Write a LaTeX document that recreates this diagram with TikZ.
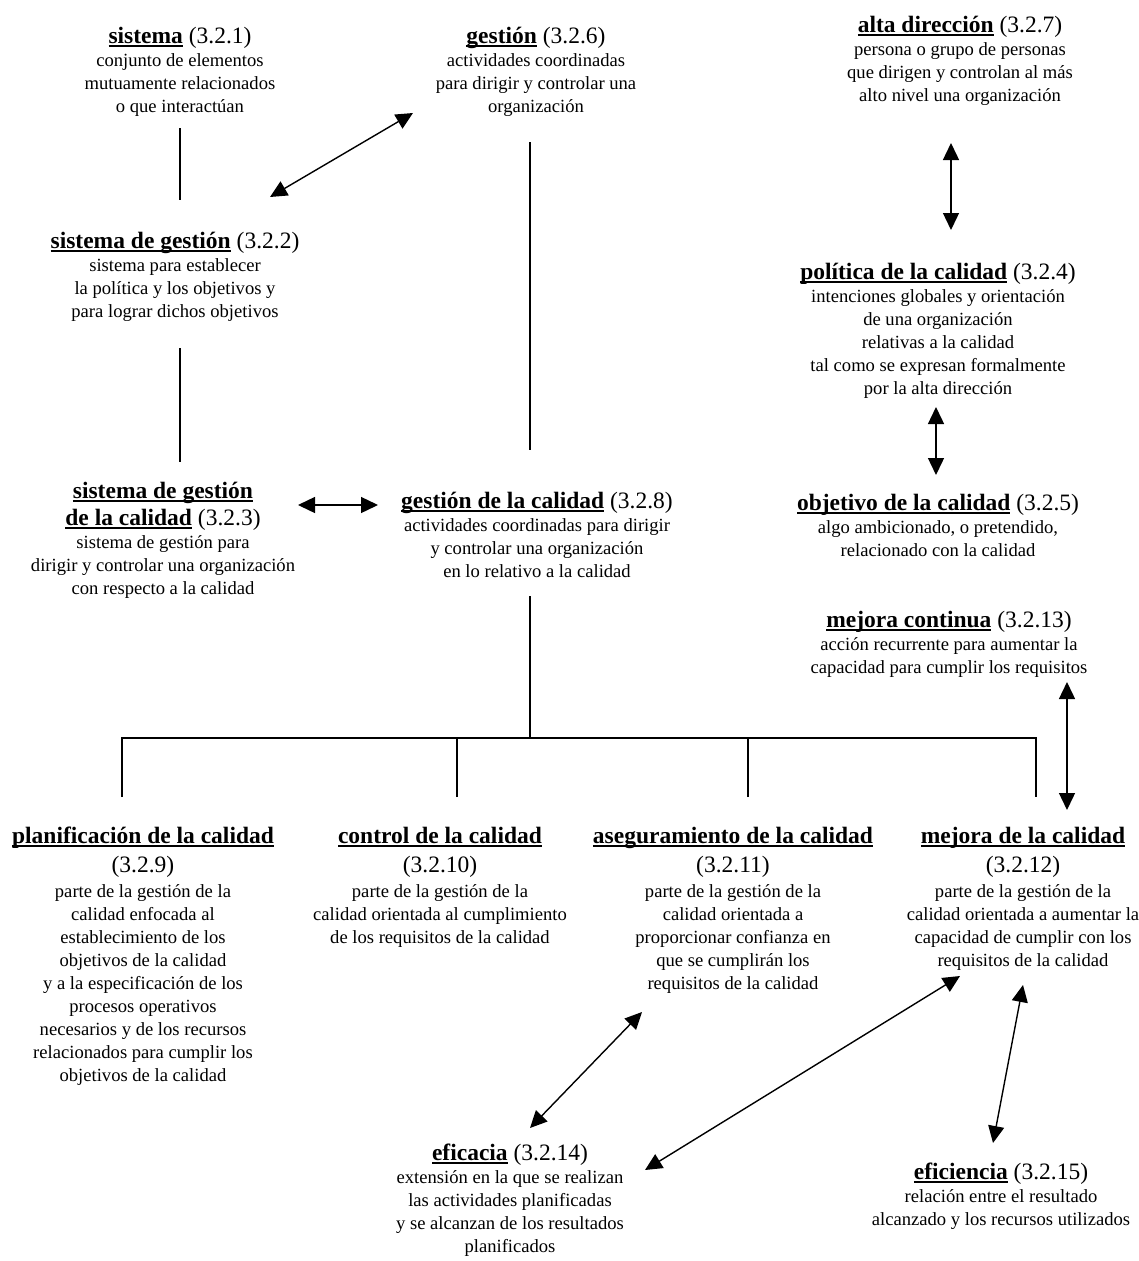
\documentclass[tikz,border=0pt]{standalone}
\usepackage{fontspec}
\setmainfont{Liberation Serif}
\usetikzlibrary{arrows.meta}

\newcommand\cuerpo{\fontsize{18.6}{23}\selectfont}
\newcommand\titulo{\fontsize{23.5}{23}\selectfont}
\newsavebox\cajaconcepto
\newcommand\concepto[1]{\sbox\cajaconcepto{\bfseries #1}\rlap{\rule[-4pt]{\wd\cajaconcepto}{2.2pt}}\usebox\cajaconcepto}

\tikzset{
  definicion/.style={align=center, inner sep=0pt, anchor=base, font=\cuerpo},
  linea/.style={line width=1.4pt},
  flecha/.style={line width=1.4pt, >={Triangle[length=17pt,width=16pt]}, <->}
}

\begin{document}
\begin{tikzpicture}[x=1pt, y=-1pt]

    \useasboundingbox (0,0) rectangle (1139,1261);

    % TOP ROW (nodes sit on the baseline of their last line)
    \node[definicion] (sis) at (180,112) {{\titulo\concepto{sistema} (3.2.1)}\\
        conjunto de elementos\\ mutuamente relacionados\\ o que interactúan};
    \node[definicion] (ges) at (536,112) {{\titulo\concepto{gestión} (3.2.6)}\\
        actividades coordinadas\\ para dirigir y controlar una\\ organización};
    \node[definicion] (alta) at (960,101) {{\titulo\concepto{alta dirección} (3.2.7)}\\
        persona o grupo de personas\\ que dirigen y controlan al más\\ alto nivel una organización};

    % SECOND ROW
    \node[definicion] (sisg) at (175,317) {{\titulo\concepto{sistema de gestión} (3.2.2)}\\
        sistema para establecer\\ la política y los objetivos y\\ para lograr dichos objetivos};
    \node[definicion] (pol) at (938,394) {{\titulo\concepto{política de la calidad} (3.2.4)}\\
        intenciones globales y orientación\\ de una organización\\ relativas a la calidad\\
        tal como se expresan formalmente\\ por la alta dirección};

    % THIRD ROW
    \node[definicion] (sgc) at (163,594) {{\titulo\concepto{sistema de gestión}}\\[4pt]
        {\titulo\concepto{de la calidad} (3.2.3)}\\
        sistema de gestión para\\ dirigir y controlar una organización\\ con respecto a la calidad};
    \node[definicion] (gcal) at (537,577) {{\titulo\concepto{gestión de la calidad} (3.2.8)}\\
        actividades coordinadas para dirigir\\ y controlar una organización\\ en lo relativo a la calidad};
    \node[definicion] (obj) at (938,556) {{\titulo\concepto{objetivo de la calidad} (3.2.5)}\\
        algo ambicionado, o pretendido,\\ relacionado con la calidad};
    \node[definicion] (mejc) at (949,673) {{\titulo\concepto{mejora continua} (3.2.13)}\\
        acción recurrente para aumentar la\\ capacidad para cumplir los requisitos};

    % BOTTOM ROW
    \node[definicion] (plan) at (143,1081) {{\titulo\concepto{planificación de la calidad}}\\[6pt]
        {\titulo (3.2.9)}\\[2pt]
        parte de la gestión de la\\ calidad enfocada al\\ establecimiento de los\\
        objetivos de la calidad\\ y a la especificación de los\\ procesos operativos\\
        necesarios y de los recursos\\ relacionados para cumplir los\\ objetivos de la calidad};
    \node[definicion] (ctrl) at (440,943) {{\titulo\concepto{control de la calidad}}\\[6pt]
        {\titulo (3.2.10)}\\[2pt]
        parte de la gestión de la\\ calidad orientada al cumplimiento\\ de los requisitos de la calidad};
    \node[definicion] (aseg) at (733,989) {{\titulo\concepto{aseguramiento de la calidad}}\\[6pt]
        {\titulo (3.2.11)}\\[2pt]
        parte de la gestión de la\\ calidad orientada a\\ proporcionar confianza en\\
        que se cumplirán los\\ requisitos de la calidad};
    \node[definicion] (mej) at (1023,966) {{\titulo\concepto{mejora de la calidad}}\\[6pt]
        {\titulo (3.2.12)}\\[2pt]
        parte de la gestión de la\\ calidad orientada a aumentar la\\ capacidad de cumplir con los\\
        requisitos de la calidad};

    % EFICACIA Y EFICIENCIA
    \node[definicion] (efa) at (510,1252) {{\titulo\concepto{eficacia} (3.2.14)}\\
        extensión en la que se realizan\\ las actividades planificadas\\
        y se alcanzan de los resultados\\ planificados};
    \node[definicion] (efi) at (1001,1225) {{\titulo\concepto{eficiencia} (3.2.15)}\\
        relación entre el resultado\\ alcanzado y los recursos utilizados};

    % LINES
    \draw[linea] ([yshift=-16pt]sis.base) -- ([xshift=5pt,yshift=117pt]sisg.base);
    \draw[linea] ([xshift=5pt,yshift=-31pt]sisg.base) -- ([xshift=17pt,yshift=132pt]sgc.base);
    \draw[linea] ([xshift=-6pt,yshift=-30pt]ges.base) -- ([xshift=-7pt,yshift=127pt]gcal.base);

    % TREE UNDER GESTION DE LA CALIDAD
    \coordinate (bus) at (530,738);
    \draw[linea] ([xshift=-7pt,yshift=-19pt]gcal.base) -- (bus);
    \draw[linea] ([xshift=-21pt,yshift=284pt]plan.base) |- (bus) -| ([xshift=13pt,yshift=169pt]mej.base);
    \draw[linea] ([xshift=17pt,yshift=146pt]ctrl.base) |- (bus);
    \draw[linea] ([xshift=15pt,yshift=192pt]aseg.base) |- (bus);

    % ARROWS
    \draw[flecha] ([xshift=-123pt,yshift=-1pt]ges.base) -- ([xshift=95pt,yshift=120pt]sisg.base);
    \draw[flecha] ([xshift=135pt,yshift=89pt]sgc.base) -- ([xshift=-159pt,yshift=72pt]gcal.base);
    \draw[flecha] ([xshift=-9pt,yshift=-42pt]alta.base) -- ([xshift=13pt,yshift=164pt]pol.base);
    \draw[flecha] ([xshift=-2pt,yshift=-13pt]pol.base) -- ([xshift=-2pt,yshift=81pt]obj.base);
    \draw[flecha] ([xshift=118pt,yshift=-9pt]mejc.base) -- ([xshift=44pt,yshift=156pt]mej.base);
    \draw[flecha] ([xshift=-91pt,yshift=-23pt]aseg.base) -- ([xshift=20pt,yshift=124pt]efa.base);
    \draw[flecha] ([xshift=-63pt,yshift=-10pt]mej.base) -- ([xshift=135pt,yshift=82pt]efa.base);
    \draw[flecha] ([yshift=-19pt]mej.base) -- ([xshift=-8pt,yshift=82pt]efi.base);

\end{tikzpicture}
\end{document}
